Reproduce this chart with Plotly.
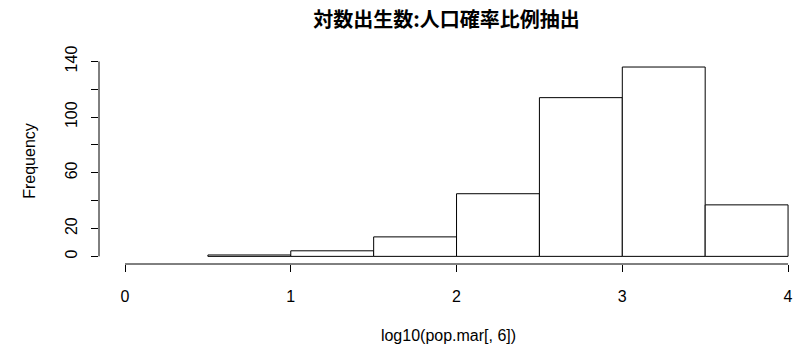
import plotly.graph_objects as go

# Data
breaks = [0.5, 1.0, 1.5, 2.0, 2.5, 3.0, 3.5, 4.0]
counts = [1, 4, 14, 45, 114, 136, 37]
x_ticks = [0, 1, 2, 3, 4]
y_ticks = [0, 20, 40, 60, 80, 100, 120, 140]
y_tick_labels = ["0", "20", "", "60", "", "100", "", "140"]
title_text = "対数出生数:人口確率比例抽出"
x_title = "log10(pop.mar[, 6])"
y_title = "Frequency"

mids = [(a + b) / 2 for a, b in zip(breaks[:-1], breaks[1:])]
widths = [b - a for a, b in zip(breaks[:-1], breaks[1:])]

FONT = "Liberation Sans, Arial, sans-serif"

fig = go.Figure(
    go.Bar(
        x=mids, y=counts, width=widths,
        marker=dict(color="white", line=dict(color="black", width=1)),
        hoverinfo="x+y",
    )
)

fig.update_layout(
    width=798, height=349,
    margin=dict(l=99, r=0, t=58, b=85),
    paper_bgcolor="white", plot_bgcolor="white",
    showlegend=False,
    font=dict(family=FONT, size=16, color="black"),
    title=dict(
        text=title_text, x=446.5 / 798, xanchor="center", xref="container",
        y=1 - 20 / 349, yanchor="middle", yref="container",
        font=dict(family="Noto Sans CJK JP", size=20, color="black", weight=700),
    ),
    xaxis=dict(
        range=[-0.157, 4.06], tickvals=x_ticks, ticktext=[str(v) for v in x_ticks],
        ticks="outside", ticklen=7, tickcolor="black", tickwidth=1,
        ticklabelstandoff=11,
        showgrid=False, zeroline=False, showline=False,
        tickfont=dict(family=FONT, size=16, color="black"),
        title=dict(text=x_title, standoff=25, font=dict(family=FONT, size=16)),
        automargin=False,
    ),
    yaxis=dict(
        range=[-5.48, 142.48], tickvals=y_ticks, ticktext=y_tick_labels,
        tickangle=-90,
        ticks="outside", ticklen=7, tickcolor="black", tickwidth=1,
        ticklabelstandoff=8,
        showgrid=False, zeroline=False, showline=False,
        tickfont=dict(family=FONT, size=16, color="black"),
        title=dict(text=y_title, standoff=22, font=dict(family=FONT, size=16)),
        automargin=False,
    ),
    shapes=[
        dict(type="line", xref="x", yref="paper", x0=x_ticks[0], x1=x_ticks[-1], y0=0, y1=0,
             line=dict(color="black", width=1)),
        dict(type="line", xref="paper", yref="y", x0=0, x1=0, y0=y_ticks[0], y1=y_ticks[-1],
             line=dict(color="black", width=1)),
    ],
)

fig.write_html("out.html")
